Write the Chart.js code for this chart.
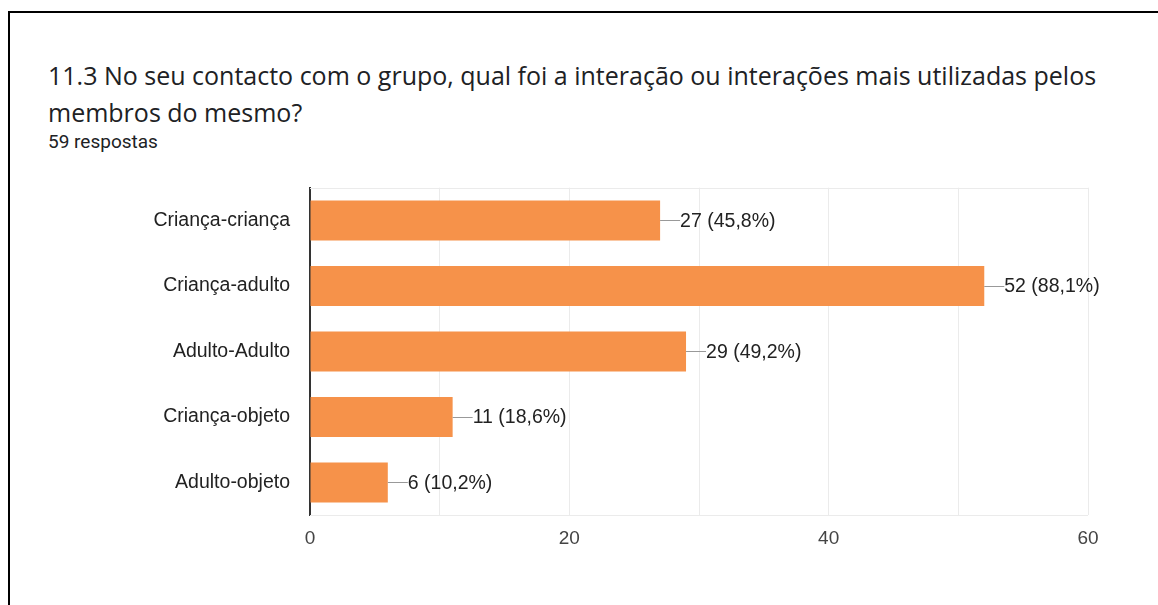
<!DOCTYPE html>
<html>
<head>
<meta charset="utf-8">
<script src="https://cdn.jsdelivr.net/npm/chart.js@4"></script>
<style>
  body { margin: 0; background: #fff; width: 1158px; height: 605px; overflow: hidden; position: relative; }
  #frame { position: absolute; left: 8px; top: 11px; width: 1200px; height: 700px; border-left: 2px solid #000; border-top: 2px solid #000; }
  #title { position: absolute; left: 48px; top: 57px; font-family: "Open Sans", Roboto, sans-serif; font-size: 25px; line-height: 37px; color: #202124; }
  #sub { position: absolute; left: 48px; top: 130px; font-family: Roboto, "Open Sans", sans-serif; font-size: 19px; color: #202124; }
  #wrap { position: absolute; left: 0; top: 156px; width: 1158px; height: 406px; }
</style>
</head>
<body>
<div id="frame"></div>
<div id="title">11.3 No seu contacto com o grupo, qual foi a interação ou interações mais utilizadas pelos<br>membros do mesmo?</div>
<div id="sub">59 respostas</div>
<div id="wrap"><canvas id="myChart" width="1158" height="406"></canvas></div>
<script>
const categorias = ["Criança-criança", "Criança-adulto", "Adulto-Adulto", "Criança-objeto", "Adulto-objeto"];
const respostas = [27, 52, 29, 11, 6];
const percentagens = ["45,8%", "88,1%", "49,2%", "18,6%", "10,2%"];
const ticksX = [0, 20, 40, 60];

const fonte = "'Liberation Sans', Arial, sans-serif";

// caixa clara em volta da área do gráfico
const caixa = {
  id: "caixa",
  beforeDatasetsDraw(chart) {
    const a = chart.chartArea;
    const ctx = chart.ctx;
    ctx.save();
    ctx.strokeStyle = "#ebebeb";
    ctx.lineWidth = 1;
    ctx.beginPath();
    ctx.moveTo(a.left, Math.round(a.top) + 0.5);
    ctx.lineTo(a.right, Math.round(a.top) + 0.5);
    ctx.moveTo(a.left, Math.round(a.bottom) + 0.5);
    ctx.lineTo(a.right, Math.round(a.bottom) + 0.5);
    ctx.stroke();
    ctx.restore();
  },
};

// rótulos com linha guia no fim de cada barra
const rotulos = {
  id: "rotulos",
  afterDatasetsDraw(chart) {
    const ctx = chart.ctx;
    const meta = chart.getDatasetMeta(0);
    ctx.save();
    meta.data.forEach((bar, i) => {
      ctx.strokeStyle = "#999";
      ctx.lineWidth = 1;
      ctx.beginPath();
      ctx.moveTo(bar.x, Math.round(bar.y) + 0.5);
      ctx.lineTo(bar.x + 20, Math.round(bar.y) + 0.5);
      ctx.stroke();
      ctx.fillStyle = "#222";
      ctx.font = "19.5px " + fonte;
      ctx.textBaseline = "middle";
      ctx.textAlign = "left";
      ctx.fillText(respostas[i] + " (" + percentagens[i] + ")", bar.x + 20, bar.y + 1);
    });
    ctx.restore();
  },
};

new Chart(document.getElementById("myChart"), {
  type: "bar",
  data: {
    labels: categorias,
    datasets: [
      {
        data: respostas,
        backgroundColor: "#F6924A",
        barPercentage: 0.61,
        categoryPercentage: 1,
      },
    ],
  },
  options: {
    indexAxis: "y",
    responsive: false,
    animation: false,
    layout: { padding: { top: 3, right: 70, bottom: 0, left: 0 } },
    plugins: { legend: { display: false }, tooltip: { enabled: false } },
    scales: {
      x: {
        min: 0,
        max: 60,
        afterBuildTicks: (scale) => {
          const t = [];
          for (let v = 0; v <= 60; v += 10) t.push({ value: v });
          scale.ticks = t;
        },
        grid: { color: "#ebebeb", drawTicks: false },
        border: { display: false },
        ticks: {
          padding: 12,
          color: "#444",
          autoSkip: false,
          maxRotation: 0,
          font: { family: fonte, size: 19 },
          callback: (v) => (ticksX.includes(v) ? v : ""),
        },
      },
      y: {
        afterFit: (scale) => { scale.width = 310; },
        grid: { display: false, drawTicks: false },
        border: { display: true, color: "#333", width: 2 },
        ticks: {
          padding: 20,
          color: "#222",
          font: { family: fonte, size: 19.5 },
        },
      },
    },
  },
  plugins: [caixa, rotulos],
});
</script>
</body>
</html>
